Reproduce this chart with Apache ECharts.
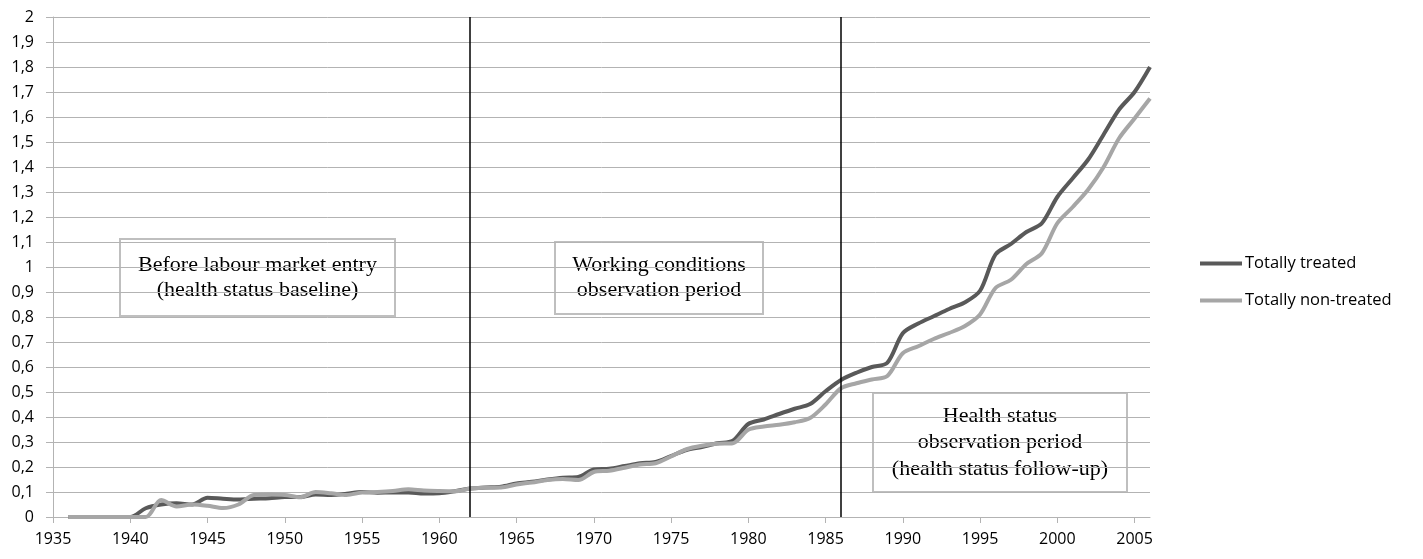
<!DOCTYPE html>
<html>
<head>
<meta charset="utf-8">
<script src="https://cdn.jsdelivr.net/npm/echarts@6/dist/echarts.min.js"></script>
<style>
  html, body { margin: 0; padding: 0; background: #fff; }
  #chart { width: 1423px; height: 559px; }
</style>
</head>
<body>
<div id="chart"></div>
<script>
// years 1936 .. 2006
var years = [
  1936, 1937, 1938, 1939, 1940, 1941, 1942, 1943, 1944, 1945,
  1946, 1947, 1948, 1949, 1950, 1951, 1952, 1953, 1954, 1955,
  1956, 1957, 1958, 1959, 1960, 1961, 1962, 1963, 1964, 1965,
  1966, 1967, 1968, 1969, 1970, 1971, 1972, 1973, 1974, 1975,
  1976, 1977, 1978, 1979, 1980, 1981, 1982, 1983, 1984, 1985,
  1986, 1987, 1988, 1989, 1990, 1991, 1992, 1993, 1994, 1995,
  1996, 1997, 1998, 1999, 2000, 2001, 2002, 2003, 2004, 2005,
  2006
];

var totallyTreated = [
  0, 0, 0, 0, 0, 0.035, 0.05, 0.055, 0.05, 0.077,
  0.073, 0.07, 0.073, 0.075, 0.08, 0.08, 0.09, 0.088, 0.093, 0.1,
  0.097, 0.098, 0.098, 0.094, 0.095, 0.103, 0.114, 0.118, 0.121, 0.134,
  0.141, 0.15, 0.157, 0.16, 0.19, 0.193, 0.204, 0.215, 0.22, 0.244,
  0.268, 0.28, 0.295, 0.305, 0.372, 0.39, 0.412, 0.433, 0.452, 0.503,
  0.548, 0.577, 0.6, 0.617, 0.735, 0.774, 0.803, 0.832, 0.858, 0.905,
  1.05, 1.092, 1.14, 1.175, 1.28, 1.355, 1.43, 1.53, 1.63, 1.70,
  1.80
];

var totallyNonTreated = [
  0, 0, 0, 0, 0, 0, 0.068, 0.042, 0.05, 0.045,
  0.036, 0.05, 0.088, 0.09, 0.088, 0.079, 0.1, 0.095, 0.088, 0.098,
  0.1, 0.104, 0.111, 0.106, 0.104, 0.103, 0.114, 0.117, 0.118, 0.13,
  0.138, 0.148, 0.152, 0.148, 0.18, 0.185, 0.197, 0.21, 0.215, 0.242,
  0.271, 0.285, 0.293, 0.295, 0.349, 0.362, 0.369, 0.379, 0.396, 0.45,
  0.515, 0.535, 0.55, 0.564, 0.655, 0.683, 0.712, 0.736, 0.763, 0.81,
  0.916, 0.949, 1.012, 1.055, 1.175, 1.24, 1.31, 1.40, 1.515, 1.594,
  1.674
];

var xTickLabels = [1935, 1940, 1945, 1950, 1955, 1960, 1965, 1970, 1975, 1980, 1985, 1990, 1995, 2000, 2005];
var periodBreaks = [1962, 1986];

function pairs(vals) {
  return years.map(function (y, i) { return [y, vals[i]]; });
}

var gridColor = '#b3b3b3';
var labelFont = { fontFamily: 'Open Sans', fontSize: 16, color: '#000' };
var boxFont = '22px "Liberation Serif"';

function textBox(x, y, w, h, text, lineHeight) {
  return {
    type: 'group',
    z: 100,
    children: [
      {
        type: 'rect',
        shape: { x: x, y: y, width: w, height: h },
        style: { fill: '#fff', stroke: '#bfbfbf', lineWidth: 2 }
      },
      {
        type: 'text',
        x: x + w / 2,
        y: y + h / 2,
        style: {
          text: text,
          font: boxFont,
          fill: '#000',
          align: 'center',
          verticalAlign: 'middle',
          lineHeight: lineHeight
        }
      }
    ]
  };
}

var chart = echarts.init(document.getElementById('chart'));
chart.setOption({
  animation: false,
  backgroundColor: '#fff',
  grid: { left: 53, right: 273, top: 17, bottom: 42, containLabel: false },
  legend: {
    orient: 'vertical',
    left: 1200,
    top: 255,
    padding: 0,
    icon: 'rect',
    itemWidth: 42,
    itemHeight: 4,
    itemGap: 20,
    textStyle: { fontFamily: 'Open Sans', fontSize: 16.5, color: '#000', padding: [0, 0, 0, -2] },
    data: ['Totally treated', 'Totally non-treated']
  },
  xAxis: {
    type: 'value',
    min: 1935,
    max: 2006,
    interval: 5,
    axisLine: { show: true, onZero: false, lineStyle: { color: gridColor, width: 1 } },
    axisTick: { show: true, length: 6, customValues: xTickLabels, lineStyle: { color: gridColor } },
    axisLabel: Object.assign({ margin: 14, customValues: xTickLabels, formatter: function (v) { return String(v); } }, labelFont),
    splitLine: { show: false }
  },
  yAxis: {
    type: 'value',
    min: 0,
    max: 2,
    interval: 0.1,
    axisLine: { show: true, lineStyle: { color: gridColor, width: 1 } },
    axisTick: { show: true, length: 7, lineStyle: { color: gridColor } },
    axisLabel: Object.assign({
      margin: 19,
      formatter: function (v) { return (Math.round(v * 10) / 10).toString().replace('.', ','); }
    }, labelFont),
    splitLine: { show: true, lineStyle: { color: gridColor, width: 1 } }
  },
  series: [
    {
      name: 'Totally treated',
      type: 'line',
      data: pairs(totallyTreated),
      showSymbol: false,
      symbol: 'none',
      smooth: 0.3,
      itemStyle: { color: '#595959' },
      lineStyle: { color: '#595959', width: 4 },
      markLine: {
        silent: true,
        symbol: 'none',
        label: { show: false },
        lineStyle: { color: '#000', width: 1.5, type: 'solid' },
        data: periodBreaks.map(function (y) { return { xAxis: y }; })
      }
    },
    {
      name: 'Totally non-treated',
      type: 'line',
      data: pairs(totallyNonTreated),
      showSymbol: false,
      symbol: 'none',
      smooth: 0.3,
      itemStyle: { color: '#a6a6a6' },
      lineStyle: { color: '#a6a6a6', width: 4 }
    }
  ],
  graphic: [
    textBox(120, 239, 275, 77, 'Before labour market entry\n(health status baseline)', 25),
    textBox(555, 242, 208, 72, 'Working conditions\nobservation period', 25),
    textBox(873, 393, 254, 99, 'Health status\nobservation period\n(health status follow-up)', 26.5)
  ]
});
</script>
</body>
</html>
